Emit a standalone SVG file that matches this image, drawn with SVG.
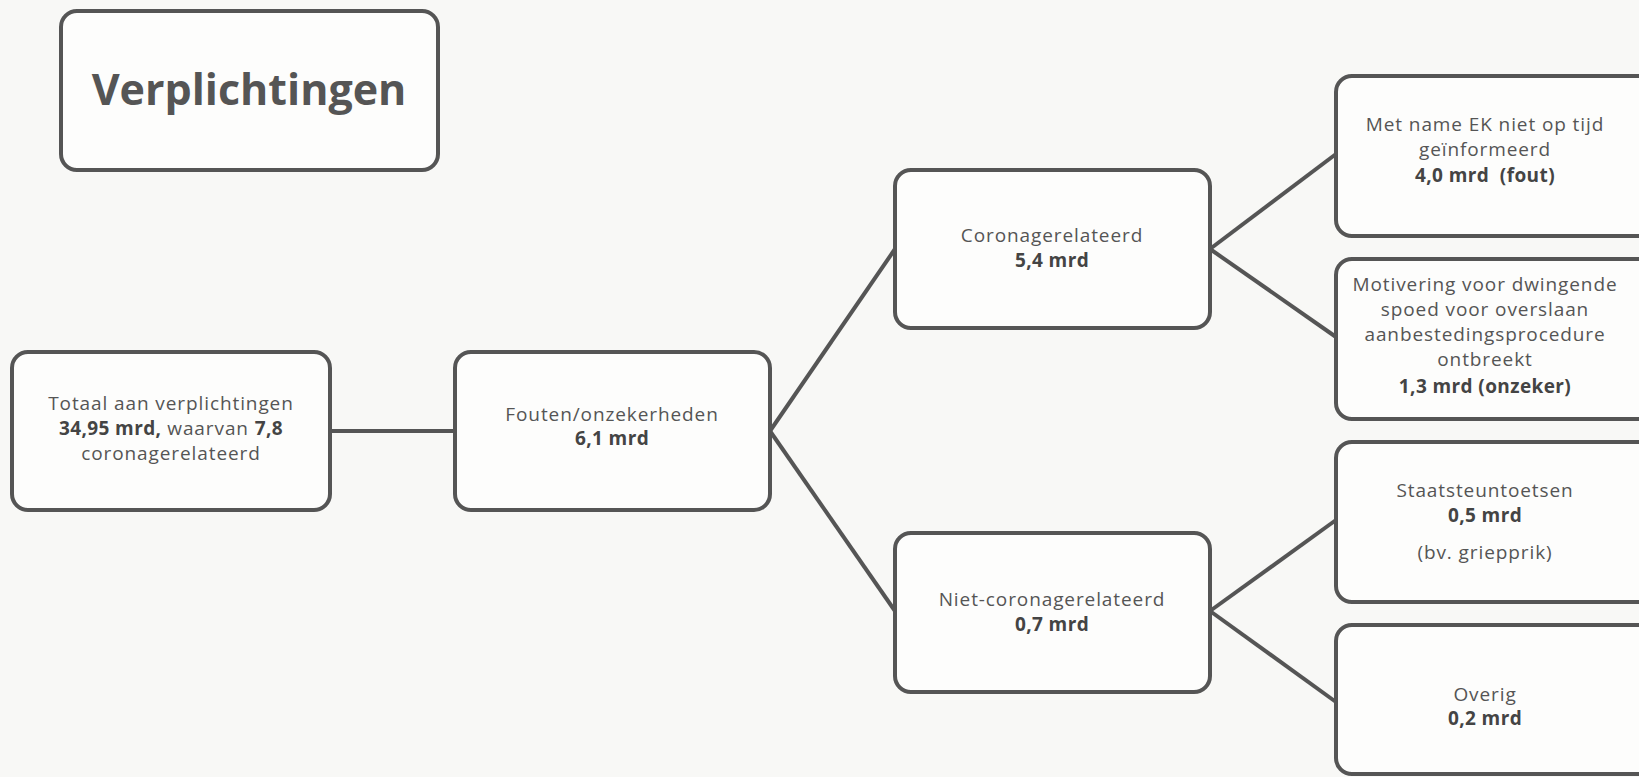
<svg xmlns="http://www.w3.org/2000/svg" width="1639" height="777" viewBox="0 0 1639 777">
<style>
.box{fill:#fdfdfc;stroke:#555;stroke-width:4}
.t{font-family:"Open Sans","Liberation Sans",sans-serif;font-size:19px;fill:#555;text-anchor:middle;letter-spacing:0.9px}
.b{font-weight:bold;fill:#444;letter-spacing:0.4px}
.title{font-family:"Open Sans","Liberation Sans",sans-serif;font-size:43px;font-weight:bold;fill:#555;text-anchor:middle}
.c{stroke:#555;stroke-width:4;fill:none}
</style>
<rect width="1639" height="777" fill="#f8f8f6"/>
<g id="connectors">
<line class="c" x1="330" y1="431" x2="455" y2="431"/>
<line class="c" x1="770" y1="431" x2="895" y2="249"/>
<line class="c" x1="770" y1="431" x2="895" y2="611"/>
<line class="c" x1="1210" y1="249" x2="1336" y2="154"/>
<line class="c" x1="1210" y1="249" x2="1336" y2="337"/>
<line class="c" x1="1210" y1="611" x2="1336" y2="520"/>
<line class="c" x1="1210" y1="611" x2="1336" y2="702"/>
</g>
<g id="title">
<rect class="box" x="61" y="11" width="377" height="159" rx="16"/>
<text class="title" x="249" y="105">Verplichtingen</text>
</g>
<g id="totaal">
<rect class="box" x="12" y="352" width="318" height="158" rx="16"/>
<text class="t" x="171" y="410">Totaal aan verplichtingen</text>
<text class="t" x="171" y="435"><tspan class="b">34,95 mrd,</tspan> waarvan <tspan class="b">7,8</tspan></text>
<text class="t" x="171" y="460">coronagerelateerd</text>
</g>
<g id="fouten">
<rect class="box" x="455" y="352" width="315" height="158" rx="16"/>
<text class="t" x="612" y="421">Fouten/onzekerheden</text>
<text class="t b" x="612" y="445">6,1 mrd</text>
</g>
<g id="corona">
<rect class="box" x="895" y="170" width="315" height="158" rx="16"/>
<text class="t" x="1052" y="242">Coronagerelateerd</text>
<text class="t b" x="1052" y="267">5,4 mrd</text>
</g>
<g id="nietcorona">
<rect class="box" x="895" y="533" width="315" height="159" rx="16"/>
<text class="t" x="1052" y="606">Niet-coronagerelateerd</text>
<text class="t b" x="1052" y="631">0,7 mrd</text>
</g>
<g id="ek">
<rect class="box" x="1336" y="76" width="340" height="160" rx="16"/>
<text class="t" x="1485" y="131">Met name EK niet op tijd</text>
<text class="t" x="1485" y="156">geïnformeerd</text>
<text class="t b" x="1485" y="182" xml:space="preserve">4,0 mrd  (fout)</text>
</g>
<g id="motivering">
<rect class="box" x="1336" y="259" width="340" height="160" rx="16"/>
<text class="t" x="1485" y="291">Motivering voor dwingende</text>
<text class="t" x="1485" y="316">spoed voor overslaan</text>
<text class="t" x="1485" y="341">aanbestedingsprocedure</text>
<text class="t" x="1485" y="366">ontbreekt</text>
<text class="t b" x="1485" y="393">1,3 mrd (onzeker)</text>
</g>
<g id="staatssteun">
<rect class="box" x="1336" y="442" width="340" height="160" rx="16"/>
<text class="t" x="1485" y="497">Staatsteuntoetsen</text>
<text class="t b" x="1485" y="522">0,5 mrd</text>
<text class="t" x="1485" y="559">(bv. griepprik)</text>
</g>
<g id="overig">
<rect class="box" x="1336" y="625" width="340" height="149" rx="16"/>
<text class="t" x="1485" y="701">Overig</text>
<text class="t b" x="1485" y="725">0,2 mrd</text>
</g>
</svg>
